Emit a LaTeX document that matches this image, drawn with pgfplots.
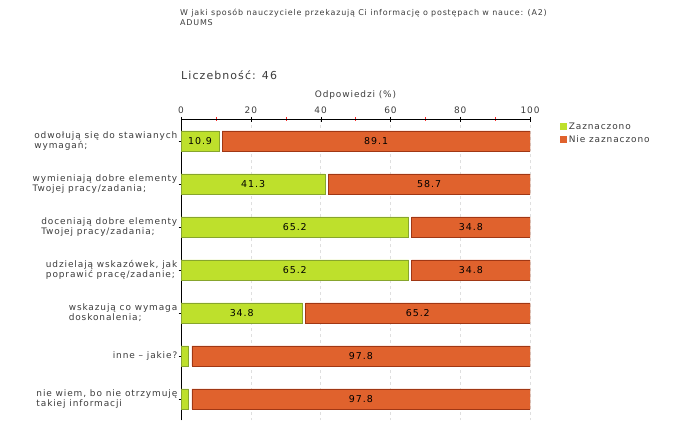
\documentclass[border=0pt]{standalone}
\usepackage{pgfplots}
\pgfplotsset{compat=1.18}
\usepackage{fontspec}
\setmainfont{DejaVu Sans}[LetterSpace=10]
\definecolor{zgreen}{RGB}{190,224,44}
\definecolor{zgreenedge}{RGB}{135,165,45}
\definecolor{zorange}{RGB}{224,98,45}
\definecolor{zorangeedge}{RGB}{160,55,20}
\definecolor{txt}{RGB}{60,60,60}
\begin{document}
\begin{tikzpicture}[x=1bp,y=1bp]
\path[use as bounding box] (0,0) rectangle (680,440);
\node[anchor=base west, font=\fontsize{8}{11}\selectfont, align=left, text=txt, inner sep=0pt] at (180,414) {W jaki sposób nauczyciele przekazują Ci informację o postępach w nauce: (A2)\\ADUMS};
\node[anchor=base west, font=\fontsize{11}{12}\selectfont, text=txt, inner sep=0pt] at (181,360) {Liczebność: 46};
\begin{axis}[
  at={(181bp,19.5bp)}, anchor=south west,
  scale only axis, width=349bp, height=301bp,
  xmin=0, xmax=100, ymin=0.5, ymax=7.5,
  xbar stacked, bar width=20bp,
  axis x line*=top, axis y line*=left,
  axis line style={-, black},
  xtick={0,20,40,60,80,100},
  minor xtick={10,30,50,70,90},
  xmajorgrids, major grid style={dashed, gray!25},
  tick align=center,
  major tick length=5bp, minor tick length=4bp,
  minor tick style={red!85},
  major tick style={black},
  ytick={1,2,3,4,5,6,7},
  yticklabels={{nie wiem, bo nie otrzymuję\\takiej informacji},{inne – jakie?},{wskazują co wymaga\\doskonalenia;},{udzielają wskazówek, jak\\poprawić pracę/zadanie;},{doceniają dobre elementy\\Twojej pracy/zadania;},{wymieniają dobre elementy\\Twojej pracy/zadania;},{odwołują się do stawianych\\wymagań;}},
  yticklabel style={align=left, font=\fontsize{9}{10}\selectfont, text=txt, inner sep=1bp},
  xticklabel style={font=\fontsize{9}{10}\selectfont, text=txt},
  /pgf/number format/assume math mode=true,
  xlabel={Odpowiedzi (\%)},
  xlabel style={font=\fontsize{9}{10}\selectfont, text=txt},
  legend style={at={(1.085,0.997)}, anchor=north west, draw=none, font=\fontsize{9}{10}\selectfont, text=txt, row sep=1bp, inner sep=0pt, cells={anchor=west}},
  legend image code/.code={\fill[#1, draw=none] (0bp,-3.5bp) rectangle (7bp,3.5bp);},
]
\addplot[fill=zgreen, draw=zgreenedge] coordinates {(10.9,7) (41.3,6) (65.2,5) (65.2,4) (34.8,3) (2.2,2) (2.2,1)};
\addlegendentry{Zaznaczono}
\addplot[fill=none, draw=none, forget plot] coordinates {(0.9,7) (0.9,6) (0.9,5) (0.9,4) (0.9,3) (0.9,2) (0.9,1)};
\addplot[fill=zorange, draw=zorangeedge] coordinates {(88.2,7) (57.8,6) (33.9,5) (33.9,4) (64.3,3) (96.9,2) (96.9,1)};
\addlegendentry{Nie zaznaczono}
\end{axis}
\begin{axis}[
  at={(181bp,19.5bp)}, anchor=south west,
  scale only axis, width=349bp, height=301bp,
  xmin=0, xmax=100, ymin=0.5, ymax=7.5,
  hide axis,
]
\addplot[only marks, mark=none, point meta=explicit symbolic, nodes near coords,
  every node near coord/.append style={anchor=center, font=\fontsize{9.5}{10}\selectfont, text=black}]
  coordinates {(5.45,7)[10.9] (55.9,7)[89.1] (20.65,6)[41.3] (71.1,6)[58.7] (32.6,5)[65.2] (83.05,5)[34.8] (32.6,4)[65.2] (83.05,4)[34.8] (17.4,3)[34.8] (67.85,3)[65.2] (51.55,2)[97.8] (51.55,1)[97.8]};
\end{axis}
\end{tikzpicture}
\end{document}
